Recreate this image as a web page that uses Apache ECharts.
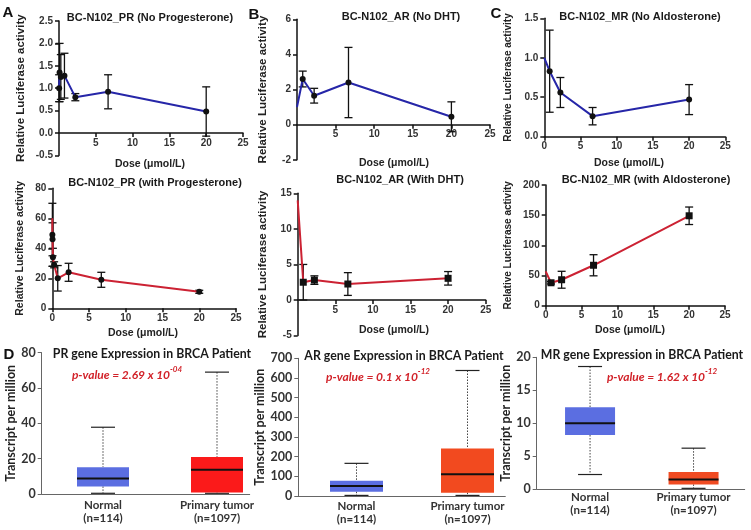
<!DOCTYPE html>
<html><head><meta charset="utf-8">
<script src="https://cdn.jsdelivr.net/npm/echarts@6/dist/echarts.min.js"></script>
<style>html,body{margin:0;padding:0;background:#fff}#c{width:751px;height:530px}</style>
</head><body><div id="c"></div>
<script>
// ---------------- DATA ----------------
// Panel A (top): PR, no progesterone
const prNoDose = [0, 0.02, 0.08, 0.25, 0.74, 2.22, 6.67, 20];
const prNoMean = [1.0, 1.0, 1.35, 1.25, 1.28, 0.8, 0.92, 0.48];
const prNoErr  = [null, 0.3, 0.65, 0.5, 0.5, 0.08, 0.38, 0.55];
// Panel B (top): AR, no DHT
const arNoDose = [0, 0.74, 2.22, 6.67, 20];
const arNoMean = [1.0, 2.6, 1.65, 2.4, 0.45];
const arNoErr  = [null, 0.45, 0.42, 2.0, 0.85];
// Panel C (top): MR, no aldosterone
const mrNoDose = [0, 0.74, 2.22, 6.67, 20];
const mrNoMean = [1.0, 0.83, 0.56, 0.26, 0.47];
const mrNoErr  = [null, 0.52, 0.19, 0.11, 0.19];
// Panel A (bottom): PR, with progesterone
const prWDose = [0, 0.01, 0.03, 0.08, 0.25, 0.74, 2.22, 6.67, 20];
const prWMean = [60, 49, 46, 34, 29, 20, 24, 19, 11];
const prWErr  = [null, 21, 11, 6, 2, 8.5, 6, 5, 1];
// Panel B (bottom): AR, with DHT
const arWDose = [0, 0.74, 2.22, 6.67, 20];
const arWMean = [14, 2.5, 2.8, 2.25, 3.05];
const arWErr  = [null, 2.5, 0.6, 1.6, 0.95];
// Panel C (bottom): MR, with aldosterone
const mrWDose = [0, 0.74, 2.22, 6.67, 20];
const mrWMean = [57, 38, 43, 67, 149];
const mrWErr  = [null, 2, 14, 17.5, 14.5];
// Panel D: box plots [min, Q1, median, Q3, max]
const boxCats = ['Normal\n(n=114)', 'Primary tumor\n(n=1097)'];
const prBox = [[0.4, 4.3, 8.8, 15.2, 37.8], [0.4, 0.8, 13.8, 21, 69]];
const arBox = [[3, 22, 51, 78, 166], [3, 17, 110, 242, 638]];
const mrBox = [[2.2, 8.2, 10.0, 12.4, 18.6], [0.1, 0.7, 1.45, 2.6, 6.2]];
const pValues = [['2.69 x 10', '-04'], ['0.1 x 10', '-12'], ['1.62 x 10', '-12']];
const doseTicks = {min: 0, max: 25, interval: 5};
const doseName = 'Dose (μmol/L)';

// ---------------- BUILD ----------------
const FG = 'Liberation Sans';
const FB = 'Lato';
const TITLE_D_FONT = 'bold 12.3px "Lato"';

const grids = [], xAxes = [], yAxes = [], series = [], graphics = [];

function addGrid(g) {
  grids.push(Object.assign({outerBoundsMode: 'none', containLabel: false}, g));
  return grids.length - 1;
}
function addText(text, x, y, font, fill) {
  graphics.push({type: 'text', x: x, y: y, style: {text: text, fill: fill || '#1a1a1a', font: font,
    align: 'center', verticalAlign: 'middle', textAlign: 'center', textVerticalAlign: 'middle'}});
}

function errRender(params, api) {
  const x = api.value(0), y = api.value(1), e = api.value(2);
  const t = api.coord([x, y + e]), b = api.coord([x, y - e]);
  const cw = 4;
  const style = {stroke: '#111', lineWidth: 1.3};
  return {type: 'group', children: [
    {type: 'line', shape: {x1: t[0], y1: t[1], x2: b[0], y2: b[1]}, style},
    {type: 'line', shape: {x1: t[0] - cw, y1: t[1], x2: t[0] + cw, y2: t[1]}, style},
    {type: 'line', shape: {x1: b[0] - cw, y1: b[1], x2: b[0] + cw, y2: b[1]}, style}
  ]};
}

function doseXAxis(gi, show0, visible) {
  return {
    gridIndex: gi, type: 'value', min: doseTicks.min, max: doseTicks.max, interval: doseTicks.interval,
    show: visible,
    axisLine: {show: visible, onZero: false, lineStyle: {color: '#111', width: 1.5}},
    axisTick: {show: visible, length: 4, lineStyle: {color: '#111', width: 1.5}},
    axisLabel: {show: visible, showMinLabel: show0, margin: 5, fontFamily: FG, fontWeight: 'bold', fontSize: 10, color: '#333'},
    splitLine: {show: false}
  };
}

function dosePanel(p) {
  const gi = addGrid({left: p.l, top: p.t, width: p.w, height: p.h});
  const hasNeg = p.ymin < 0;
  xAxes.push(doseXAxis(gi, p.show0, !hasNeg));
  yAxes.push({
    gridIndex: gi, type: 'value', min: p.ymin, max: p.ymax, interval: p.yint,
    name: 'Relative Luciferase activity', nameLocation: 'middle', nameGap: p.yGap,
    nameTextStyle: {fontFamily: FG, fontWeight: 'bold', fontSize: p.yFs, color: '#222'},
    axisLine: {show: true, onZero: false, lineStyle: {color: '#111', width: 1.5}},
    axisTick: {show: true, length: 4, lineStyle: {color: '#111', width: 1.5}},
    axisLabel: {margin: 6, fontFamily: FG, fontWeight: 'bold', fontSize: 10, color: '#333',
      formatter: p.fmt || (v => String(v))},
    splitLine: {show: false}
  });
  if (hasNeg) {
    // x axis crossing at y = 0: an axis-only grid whose bottom edge sits on the zero line
    const zeroH = p.h * p.ymax / (p.ymax - p.ymin);
    const gz = addGrid({left: p.l, top: p.t, width: p.w, height: zeroH});
    xAxes.push(doseXAxis(gz, p.show0, true));
    yAxes.push({gridIndex: gz, type: 'value', min: 0, max: p.ymax, show: false});
  }
  const lineData = p.dose.map((d, i) => ({value: [d, p.mean[i]], symbolSize: p.err[i] == null ? 0 : p.sym[1]}));
  series.push({type: 'line', xAxisIndex: gi, yAxisIndex: gi, data: lineData,
    symbol: p.sym[0], symbolSize: p.sym[1], showAllSymbol: true,
    lineStyle: {color: p.color, width: 2}, itemStyle: {color: '#111'}, z: 3, animation: false});
  const errData = [];
  p.dose.forEach((d, i) => { if (p.err[i] != null) errData.push([d, p.mean[i], p.err[i]]); });
  series.push({type: 'custom', xAxisIndex: gi, yAxisIndex: gi, data: errData, renderItem: errRender,
    encode: {x: 0, y: 1}, z: 2, animation: false});
  addText(p.title, p.tx, p.ty, 'bold 11px "Liberation Sans"');
  addText(doseName, p.nx, p.ny, 'bold 10.5px "Liberation Sans"', '#222');
}

function boxRender(colors, bw) {
  return function (params, api) {
    const c = api.value(0);
    const pts = [1, 2, 3, 4, 5].map(k => api.coord([c, api.value(k)]));
    const x = pts[0][0], h = bw / 2, cap = 12;
    const dotted = {stroke: '#444', lineWidth: 1, lineDash: [1.5, 1.5]};
    const solid = {stroke: '#222', lineWidth: 1.2};
    return {type: 'group', children: [
      {type: 'line', shape: {x1: x, y1: pts[4][1], x2: x, y2: pts[3][1]}, style: dotted},
      {type: 'line', shape: {x1: x, y1: pts[1][1], x2: x, y2: pts[0][1]}, style: dotted},
      {type: 'line', shape: {x1: x - cap, y1: pts[4][1], x2: x + cap, y2: pts[4][1]}, style: solid},
      {type: 'line', shape: {x1: x - cap, y1: pts[0][1], x2: x + cap, y2: pts[0][1]}, style: solid},
      {type: 'rect', shape: {x: x - h, y: pts[3][1], width: bw, height: pts[1][1] - pts[3][1]},
        style: {fill: colors[params.dataIndex]}},
      {type: 'line', shape: {x1: x - h, y1: pts[2][1], x2: x + h, y2: pts[2][1]},
        style: {stroke: '#111', lineWidth: 2}}
    ]};
  };
}

function boxPanel(p) {
  const gi = addGrid({left: p.l, top: p.t, width: p.w, height: p.h});
  xAxes.push({gridIndex: gi, type: 'category', data: boxCats,
    axisLine: {show: false}, axisTick: {show: false},
    axisLabel: {interval: 0, margin: p.lm, fontFamily: FB, fontWeight: 'bold', fontSize: 11.5,
      lineHeight: 13, color: '#333'}});
  yAxes.push({gridIndex: gi, type: 'value', min: 0, max: p.ymax, interval: p.yint, offset: p.yOff,
    name: 'Transcript per million', nameLocation: 'middle', nameGap: p.yGap,
    nameTextStyle: {fontFamily: FB, fontWeight: 'bold', fontSize: 12.5, color: '#222'},
    axisLine: {show: true, lineStyle: {color: '#666', width: 1}},
    axisTick: {show: true, length: 4, lineStyle: {color: '#666'}},
    axisLabel: {margin: 6, fontFamily: FB, fontWeight: 'bold', fontSize: 12.5, color: '#333'},
    splitLine: {show: false}});
  series.push({type: 'custom', xAxisIndex: gi, yAxisIndex: gi,
    data: p.stats.map((s, i) => [i].concat(s)), renderItem: boxRender(p.colors, p.bw),
    encode: {x: 0, y: [1, 2, 3, 4, 5]}, animation: false});
  const gl = addGrid({left: p.axL, top: p.t, width: p.axW, height: p.h});
  xAxes.push({gridIndex: gl, type: 'value', min: 0, max: 1,
    axisLine: {show: true, onZero: false, lineStyle: {color: '#666', width: 1}},
    axisTick: {show: false}, axisLabel: {show: false}, splitLine: {show: false}});
  yAxes.push({gridIndex: gl, type: 'value', min: 0, max: 1, show: false});
  addText(p.title, p.tx, p.ty, TITLE_D_FONT);
  graphics.push({type: 'text', x: p.px, y: p.py, style: {
    text: '{a|p-value = ' + p.pv[0] + '}{b|' + p.pv[1] + '}',
    align: 'center', verticalAlign: 'middle', textAlign: 'center', textVerticalAlign: 'middle',
    rich: {
      a: {fill: '#d2232a', fontFamily: FB, fontWeight: 'bold', fontStyle: 'italic', fontSize: 12, lineHeight: 16, verticalAlign: 'bottom'},
      b: {fill: '#d2232a', fontFamily: FB, fontWeight: 'bold', fontStyle: 'italic', fontSize: 8, lineHeight: 16, verticalAlign: 'top'}
    }}});
}

const fmt1 = v => v.toFixed(1);
const BLUE = '#2626a8', RED = '#cc2233';

dosePanel({l: 59, t: 21, w: 184, h: 134.4, ymin: -0.5, ymax: 2.5, yint: 0.5, fmt: fmt1, yGap: 32, yFs: 11.5, show0: false,
  dose: prNoDose, mean: prNoMean, err: prNoErr, color: BLUE, sym: ['circle', 6], title: 'BC-N102_PR (No Progesterone)', tx: 150, ty: 18, nx: 150, ny: 164});
dosePanel({l: 297, t: 19.3, w: 193, h: 140.5, ymin: -2, ymax: 6, yint: 2, yGap: 28, yFs: 11.5, show0: false,
  dose: arNoDose, mean: arNoMean, err: arNoErr, color: BLUE, sym: ['circle', 6], title: 'BC-N102_AR (No DHT)', tx: 401, ty: 17, nx: 394, ny: 163});
dosePanel({l: 544.3, t: 18.3, w: 181, h: 118.4, ymin: 0, ymax: 1.5, yint: 0.5, fmt: fmt1, yGap: 31, yFs: 10, show0: true,
  dose: mrNoDose, mean: mrNoMean, err: mrNoErr, color: BLUE, sym: ['circle', 6], title: 'BC-N102_MR (No Aldosterone)', tx: 640, ty: 17, nx: 629, ny: 163});
dosePanel({l: 52.3, t: 188.3, w: 183.7, h: 120, ymin: 0, ymax: 80, yint: 20, yGap: 27, yFs: 10.5, show0: true,
  dose: prWDose, mean: prWMean, err: prWErr, color: RED, sym: ['circle', 6], title: 'BC-N102_PR (with Progesterone)', tx: 155, ty: 183, nx: 143, ny: 333});
dosePanel({l: 297.7, t: 193.3, w: 188, h: 142.3, ymin: -5, ymax: 15, yint: 5, yGap: 29, yFs: 11.5, show0: false,
  dose: arWDose, mean: arWMean, err: arWErr, color: RED, sym: ['rect', 7], title: 'BC-N102_AR (With DHT)', tx: 400, ty: 180, nx: 394, ny: 330});
dosePanel({l: 545.7, t: 185, w: 179.3, h: 120.7, ymin: 0, ymax: 200, yint: 50, yGap: 32, yFs: 10, show0: true,
  dose: mrWDose, mean: mrWMean, err: mrWErr, color: RED, sym: ['rect', 7], title: 'BC-N102_MR (with Aldosterone)', tx: 646, ty: 180, nx: 630, ny: 330});

boxPanel({l: 46, t: 352.7, w: 228, h: 141.3, yOff: 4.3, axL: 41.7, axW: 208, ymax: 80, yint: 20, yGap: 21, lm: 5, bw: 52,
  stats: prBox, colors: ['#5b6ee1', '#fb1a1a'], title: 'PR gene Expression in BRCA Patient', tx: 152, ty: 354, pv: pValues[0], px: 127, py: 373});
boxPanel({l: 301, t: 358.3, w: 222, h: 137.7, yOff: 2.7, axL: 298.3, axW: 207, ymax: 700, yint: 100, yGap: 25, lm: 4, bw: 53,
  stats: arBox, colors: ['#5b6ee1', '#f24a1f'], title: 'AR gene Expression in BRCA Patient', tx: 404, ty: 356, pv: pValues[1], px: 378, py: 375});
boxPanel({l: 538.3, t: 357.3, w: 207, h: 131.7, yOff: 1.6, axL: 536.7, axW: 208, ymax: 20, yint: 5, yGap: 19, lm: 2, bw: 50,
  stats: mrBox, colors: ['#5b6ee1', '#f04b22'], title: 'MR gene Expression in BRCA Patient', tx: 642, ty: 355, pv: pValues[2], px: 662, py: 375});

[['A', 8, 13], ['B', 254, 15], ['C', 496, 14], ['D', 9, 355]].forEach(l => {
  addText(l[0], l[1], l[2], 'bold 15px "Liberation Sans"', '#111');
});

const chart = echarts.init(document.getElementById('c'), null, {renderer: 'canvas'});
chart.setOption({
  backgroundColor: '#fff', animation: false,
  grid: grids, xAxis: xAxes, yAxis: yAxes, series: series, graphic: graphics
});
</script></body></html>
